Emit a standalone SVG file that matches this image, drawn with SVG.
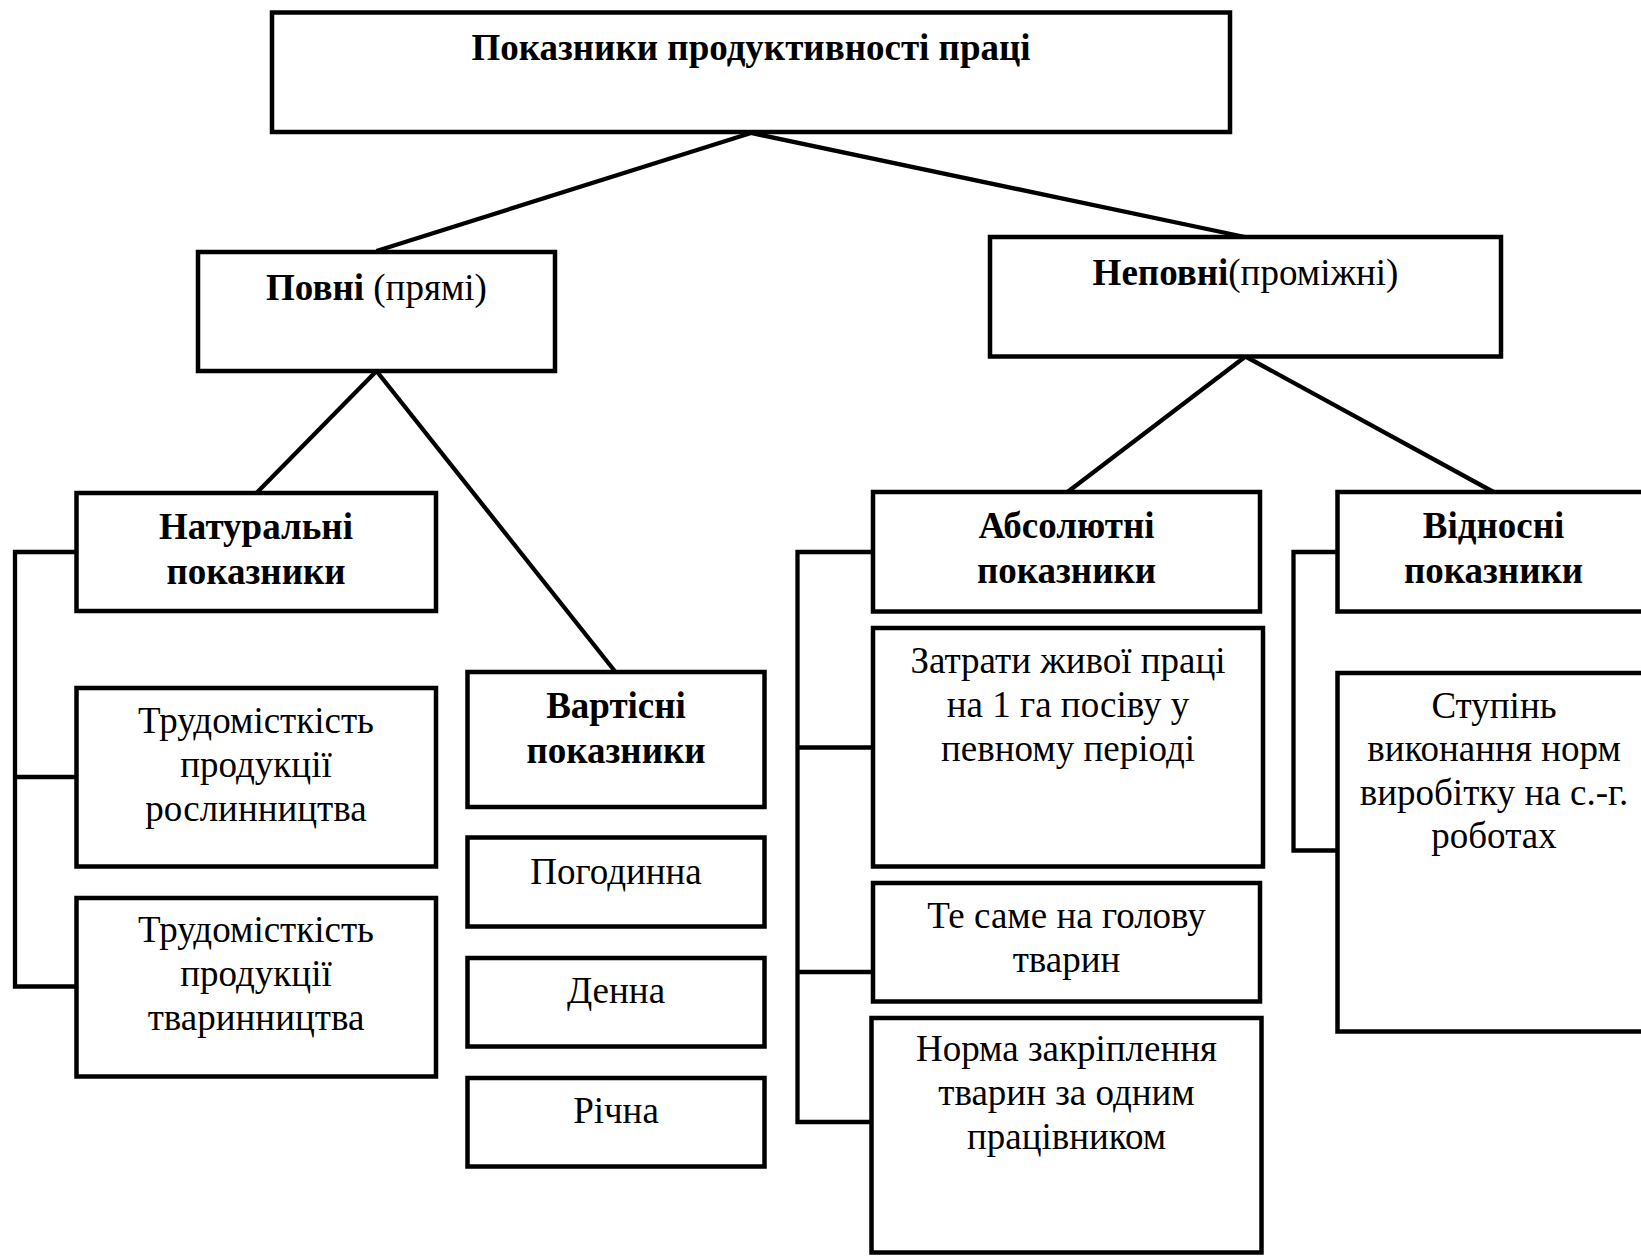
<svg xmlns="http://www.w3.org/2000/svg" width="1641" height="1256" viewBox="0 0 1641 1256">
<style>
.box{fill:#fff;stroke:#000;stroke-width:4.5}
.ln{fill:none;stroke:#000;stroke-width:4.3}
.t{font-family:'Liberation Serif','Times New Roman','DejaVu Serif',serif;font-size:37px;fill:#000;text-anchor:middle}
.b{font-weight:bold}
</style>
<rect width="1641" height="1256" fill="#fff"/>
<g id="connectors">
<path class="ln" d="M751 133 L376.5 251"/>
<path class="ln" d="M751 133 L1245 237"/>
<path class="ln" d="M376.5 371 L256.5 493"/>
<path class="ln" d="M376.5 371 L615.5 672"/>
<path class="ln" d="M1245.5 356.5 L1067.5 492"/>
<path class="ln" d="M1245.5 356.5 L1493.5 492"/>
<path class="ln" d="M76 552 H15 V986.5 H76 M15 777 H76"/>
<path class="ln" d="M873 552 H797.5 V1122 H873 M797.5 747.5 H873 M797.5 972 H873"/>
<path class="ln" d="M1337.5 552 H1293.5 V850.5 H1337.5"/>
</g>
<g class="t" font-family="Liberation Serif, serif">
<g id="n-top"><rect class="box" x="272" y="12.5" width="958" height="119.5"/><text class="b" x="751" y="60">Показники продуктивності праці</text></g>
<g id="n-povni"><rect class="box" x="198" y="252" width="357" height="119"/><text x="376.5" y="300"><tspan class="b">Повні</tspan> (прямі)</text></g>
<g id="n-nepovni"><rect class="box" x="990" y="237" width="511" height="119.5"/><text x="1245.5" y="285"><tspan class="b">Неповні</tspan>(проміжні)</text></g>
<g id="n-natur"><rect class="box" x="76.5" y="493" width="359.5" height="118"/><text class="b" x="256" y="539">Натуральні</text><text class="b" x="256" y="584">показники</text></g>
<g id="n-trud1"><rect class="box" x="76.5" y="688" width="359.5" height="178.5"/><text x="256" y="733">Трудомісткість</text><text x="256" y="777">продукції</text><text x="256" y="820.5">рослинництва</text></g>
<g id="n-trud2"><rect class="box" x="76.5" y="898" width="359.5" height="178.5"/><text x="256" y="942">Трудомісткість</text><text x="256" y="986">продукції</text><text x="256" y="1030">тваринництва</text></g>
<g id="n-vart"><rect class="box" x="467.5" y="672" width="297" height="135"/><text class="b" x="616" y="718">Вартісні</text><text class="b" x="616" y="763">показники</text></g>
<g id="n-pogod"><rect class="box" x="467.5" y="837.5" width="297" height="89"/><text x="616" y="884">Погодинна</text></g>
<g id="n-denna"><rect class="box" x="467.5" y="958" width="297" height="88.5"/><text x="616" y="1003">Денна</text></g>
<g id="n-richna"><rect class="box" x="467.5" y="1078" width="297" height="88.5"/><text x="616" y="1123">Річна</text></g>
<g id="n-abs"><rect class="box" x="873" y="492" width="387" height="119.5"/><text class="b" x="1066.5" y="538">Абсолютні</text><text class="b" x="1066.5" y="583">показники</text></g>
<g id="n-zatr"><rect class="box" x="873" y="628" width="390" height="238.5"/><text x="1068" y="673">Затрати живої праці</text><text x="1068" y="717">на 1 га посіву у</text><text x="1068" y="761">певному періоді</text></g>
<g id="n-tesame"><rect class="box" x="873" y="883" width="387" height="118.5"/><text x="1066.5" y="928">Те саме на голову</text><text x="1066.5" y="972">тварин</text></g>
<g id="n-norma"><rect class="box" x="871.5" y="1018" width="390" height="234.5"/><text x="1066.5" y="1061">Норма закріплення</text><text x="1066.5" y="1105">тварин за одним</text><text x="1066.5" y="1149">працівником</text></g>
<g id="n-vidn"><rect class="box" x="1337.5" y="492" width="330" height="119.5"/><text class="b" x="1493.5" y="538">Відносні</text><text class="b" x="1493.5" y="583">показники</text></g>
<g id="n-stup"><rect class="box" x="1337.5" y="673" width="330" height="358.5"/><text x="1494" y="717.5">Ступінь</text><text x="1494" y="761">виконання норм</text><text x="1494" y="804.5">виробітку на с.-г.</text><text x="1494" y="848">роботах</text></g>
</g>
</svg>
